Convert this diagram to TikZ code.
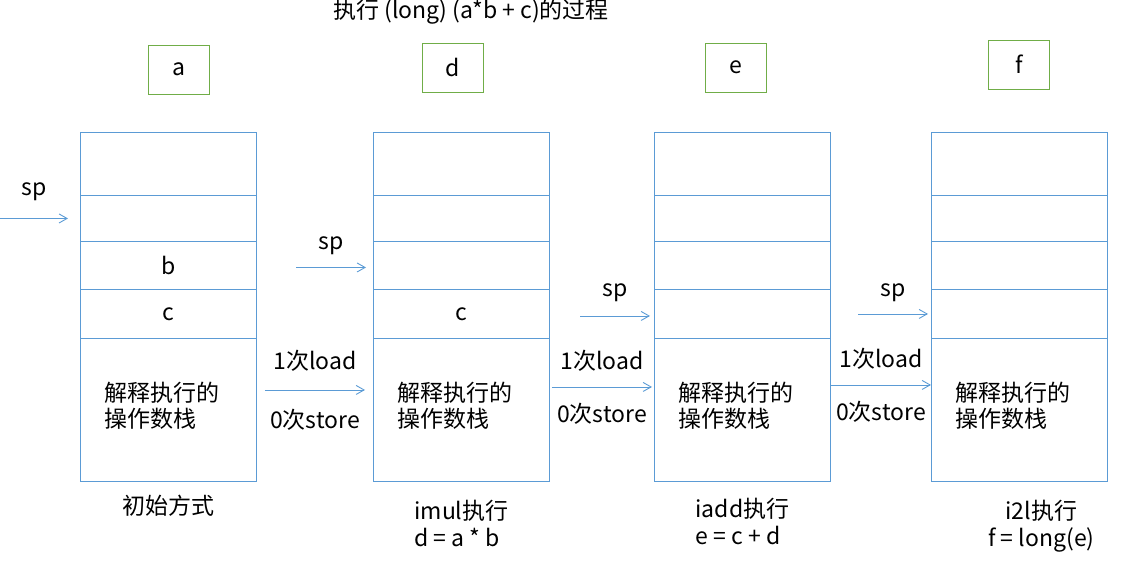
\documentclass[tikz,border=0pt]{standalone}
\usepackage{fontspec}
\setmainfont{Noto Sans CJK SC}
\usepackage{xcolor}
\usepackage{tikz}
\usetikzlibrary{positioning}
\usetikzlibrary{arrows.meta}
\definecolor{stackblue}{HTML}{5B9BD5}
\definecolor{boxgreen}{HTML}{70AD47}
\tikzset{my_diagram/.style={x=1pt,y=-1pt,font=\fontsize{23}{27}\selectfont}}
\tikzset{my_cell/.style={draw=stackblue, line width=0.9pt, minimum width=176pt, inner sep=0pt, anchor=north west}}
\tikzset{my_var/.style={draw=boxgreen, line width=0.9pt, minimum width=61pt, minimum height=49pt}}
\tikzset{my_arrow/.style={draw=stackblue, line width=0.9pt, -{Straight Barb[length=8pt,width=9pt]}}}

\begin{document}
\begin{tikzpicture}[my_diagram]
    \useasboundingbox (0,0) rectangle (1127,574);
    %\draw[help lines] (0,0) grid (1127,574);
    \node (title) at (471,12) {执行 (long) (a*b + c)的过程};

    \foreach \n/\x in {1/80, 2/373, 3/654, 4/931} {
        \node[my_cell, minimum height=63pt] (s\n-1) at (\x,132) {};
        \node[my_cell, minimum height=46pt] (s\n-2) at (\x,195) {};
        \node[my_cell, minimum height=48pt] (s\n-3) at (\x,241) {};
        \node[my_cell, minimum height=49pt] (s\n-4) at (\x,289) {};
        \node[my_cell, minimum height=143pt] (s\n-5) at (\x,338) {};
        \node[anchor=west, inner sep=0pt, align=left, font=\fontsize{23}{26}\selectfont]
            (t\n) at ([xshift=24pt,yshift=4pt]s\n-5.west) {解释执行的\\操作数栈};
    }
    \node (b1) at (s1-3) {b};
    \node (c1) at (s1-4) {c};
    \node (c2) at (s2-4) {c};

    \node[my_var] (a) at (178.5,69.5) {a};
    \node[my_var] (d) at (452.5,67.5) {d};
    \node[my_var] (e) at (735.5,67.5) {e};
    \node[my_var] (f) at (1019,64.5) {f};

    % stack pointers
    \draw[my_arrow] ([xshift=-80pt]s1-2.west) -- ([xshift=-12pt]s1-2.west) node[midway, above=14pt] (sp1) {sp};
    \draw[my_arrow] ([xshift=-77pt,yshift=-2pt]s2-3.west) -- ([xshift=-7pt,yshift=-2pt]s2-3.west) node[midway, above=9pt] (sp2) {sp};
    \draw[my_arrow] ([xshift=-74pt,yshift=-2pt]s3-4.west) -- ([xshift=-4pt,yshift=-2pt]s3-4.west) node[midway, above=10pt] (sp3) {sp};
    \draw[my_arrow] ([xshift=-73pt]s4-4.west) -- ([xshift=-3pt]s4-4.west) node[midway, above=8pt] (sp4) {sp};

    % steps
    \draw[my_arrow] ([xshift=8pt,yshift=20pt]s1-5.east) -- ([xshift=-8pt,yshift=20pt]s2-5.west)
        node[midway, above=15pt] (load1) {1次load} node[midway, below=15pt] (store1) {0次store};
    \draw[my_arrow] ([xshift=2pt,yshift=23pt]s2-5.east) -- ([xshift=-2pt,yshift=23pt]s3-5.west)
        node[midway, above=12pt] (load2) {1次load} node[midway, below=12pt] (store2) {0次store};
    \draw[my_arrow] ([yshift=25pt]s3-5.east) -- ([yshift=25pt]s4-5.west)
        node[midway, above=12pt] (load3) {1次load} node[midway, below=12pt] (store3) {0次store};

    \node[below=10pt of s1-5] (init) {初始方式};
    \node[below=15pt of s2-5, align=left] (imul) {imul执行\\d = a * b};
    \node[below=13pt of s3-5, align=left] (iadd) {iadd执行\\e = c + d};
    \node[below=15pt of s4-5, xshift=22pt, align=center] (i2l) {i2l执行\\f = long(e)};
\end{tikzpicture}
\end{document}
